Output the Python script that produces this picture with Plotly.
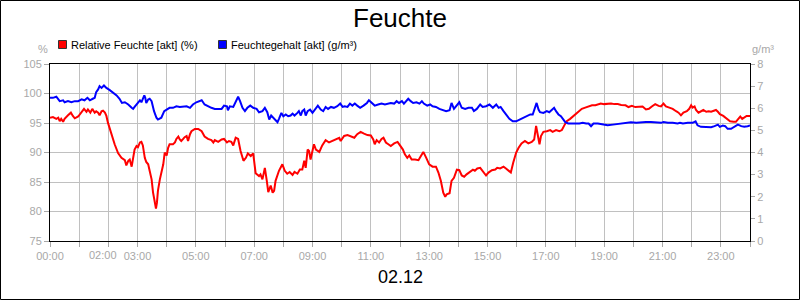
import pandas as pd
import plotly.graph_objects as go

# ---- data (minutes after midnight) ----
rf_min = [0, 6, 13, 17, 20, 23, 27, 30, 37, 43, 47, 51, 58, 65, 70, 75, 78, 83, 87, 92, 95, 99, 102, 106, 109, 113, 116, 119,
          126, 133, 140, 147, 154, 157, 161, 164, 168, 171, 174, 178, 181, 185, 188, 191, 195, 198, 202, 205, 209, 212, 216,
          218, 220, 222, 226, 229, 233, 236, 240, 243, 246, 253, 257, 260, 264, 267, 270, 274, 277, 281, 284, 288, 291, 298,
          305, 312, 318, 325, 332, 336, 339, 346, 353, 358, 364, 368, 373, 377, 382, 387, 392, 398, 403, 407, 413, 418, 423,
          430, 433, 437, 442, 446, 449, 454, 458, 461, 464, 471, 478, 483, 488, 493, 499, 503, 509, 514, 519, 523, 526, 530,
          533, 536, 540, 543, 547, 554, 560, 567, 574, 581, 588, 595, 598, 605, 612, 619, 626, 632, 639, 646, 653, 660, 665,
          668, 672, 677, 682, 686, 691, 696, 701, 708, 715, 720, 726, 730, 735, 739, 744, 751, 758, 763, 768, 774, 780, 787,
          794, 799, 804, 809, 813, 816, 822, 826, 831, 837, 842, 847, 852, 857, 864, 870, 874, 879, 885, 890, 897, 902, 909,
          916, 920, 926, 933, 938, 943, 948, 953, 959, 964, 970, 977, 984, 991, 996, 1000, 1003, 1007, 1010, 1015, 1022, 1029,
          1034, 1041, 1048, 1053, 1058, 1063, 1070, 1077, 1082, 1088, 1094, 1101, 1108, 1115, 1122, 1129, 1133, 1140, 1147,
          1154, 1161, 1168, 1175, 1184, 1190, 1197, 1204, 1212, 1219, 1226, 1232, 1238, 1245, 1252, 1257, 1262, 1267, 1274,
          1281, 1288, 1293, 1298, 1303, 1310, 1315, 1319, 1322, 1326, 1329, 1334, 1339, 1344, 1350, 1355, 1360, 1365, 1370,
          1374, 1378, 1385, 1392, 1399, 1406, 1411, 1416, 1420, 1424, 1428, 1433, 1440]
rf_val = [95.9, 96.0, 95.7, 95.9, 95.3, 95.7, 95.2, 95.7, 96.3, 96.75, 96.2, 95.8, 96.1, 96.75, 97.4, 96.9, 97.3, 96.75, 97.4,
          96.75, 97.0, 96.75, 96.3, 97.0, 97.1, 96.75, 96.2, 95.1, 93.1, 91.4, 89.9, 89.1, 88.7, 87.8, 88.6, 88.8, 87.6, 89.4,
          90.5, 91.1, 90.9, 91.7, 91.8, 91.2, 89.1, 88.4, 88.0, 86.9, 85.45, 83.2, 81.2, 80.5, 81.5, 83.5, 85.45, 86.6, 88.0,
          90.0, 89.5, 90.8, 91.4, 91.4, 91.7, 92.3, 92.7, 92.2, 91.95, 92.3, 92.6, 92.8, 91.95, 93.1, 93.6, 94.0, 94.0, 93.6,
          92.7, 92.3, 92.1, 91.7, 92.1, 91.8, 92.2, 92.3, 91.7, 91.95, 91.8, 91.2, 92.5, 92.3, 90.25, 88.6, 89.1, 89.85, 89.4,
          89.85, 86.5, 86.0, 86.3, 85.45, 87.4, 85.2, 83.3, 84.4, 83.2, 83.5, 85.2, 86.9, 88.0, 86.9, 86.4, 86.7, 86.2, 86.7,
          86.4, 87.1, 87.1, 88.6, 87.4, 90.5, 90.25, 88.8, 90.25, 91.4, 90.5, 90.1, 91.2, 92.1, 91.7, 91.95, 92.2, 92.5, 91.95,
          92.8, 92.95, 92.7, 92.5, 93.1, 93.5, 93.2, 92.95, 92.9, 92.2, 91.4, 92.1, 91.7, 92.3, 92.5, 91.7, 91.4, 91.1, 91.55,
          91.8, 91.2, 90.5, 89.7, 89.1, 89.5, 88.8, 88.8, 88.7, 89.4, 90.1, 89.1, 88.0, 87.6, 87.6, 86.6, 85.2, 83.2, 82.5,
          82.9, 83.1, 85.2, 85.7, 87.1, 87.0, 86.1, 85.9, 86.3, 86.7, 87.1, 86.9, 87.3, 87.4, 86.9, 86.1, 86.6, 87.0, 87.1,
          87.4, 87.3, 87.6, 87.3, 86.9, 86.6, 88.3, 90.0, 90.8, 91.55, 91.95, 91.55, 91.8, 92.2, 94.5, 93.1, 91.4, 92.8, 93.5,
          93.6, 93.8, 93.5, 93.8, 93.6, 93.8, 94.6, 95.3, 95.7, 96.2, 96.5, 96.9, 97.4, 97.6, 97.8, 98.0, 98.0, 98.2, 98.3,
          98.2, 98.3, 98.3, 98.2, 98.2, 98.05, 98.0, 97.7, 97.9, 97.7, 97.8, 97.8, 97.3, 97.4, 97.8, 98.2, 97.9, 97.8, 98.3,
          97.8, 97.6, 97.4, 97.0, 96.75, 96.3, 96.75, 97.0, 97.4, 98.0, 97.6, 97.8, 97.2, 96.75, 97.0, 97.2, 96.9, 97.0, 96.9,
          97.0, 97.2, 96.9, 96.5, 96.2, 95.7, 95.3, 95.2, 95.2, 95.7, 96.1, 95.7, 95.9, 96.2, 96.2]

fg_min = [0, 6, 13, 17, 20, 27, 30, 37, 44, 51, 58, 65, 71, 77, 82, 89, 92, 95, 99, 102, 106, 111, 116, 123, 130, 137, 143,
          148, 154, 161, 168, 171, 174, 180, 185, 188, 194, 196, 198, 202, 205, 209, 214, 219, 222, 229, 235, 240, 246, 253,
          260, 267, 274, 281, 288, 294, 301, 312, 318, 325, 332, 339, 346, 353, 358, 364, 366, 370, 377, 382, 387, 391, 396,
          401, 406, 412, 418, 425, 430, 437, 442, 447, 451, 455, 461, 464, 468, 471, 476, 480, 485, 490, 495, 499, 503, 509,
          512, 516, 519, 523, 526, 530, 535, 540, 547, 551, 557, 562, 567, 572, 578, 584, 591, 597, 602, 606, 612, 617, 622,
          627, 632, 638, 645, 652, 656, 661, 668, 675, 682, 689, 696, 701, 708, 713, 718, 724, 728, 732, 737, 742, 747, 754,
          760, 765, 769, 776, 782, 787, 794, 801, 808, 815, 822, 826, 831, 837, 842, 847, 854, 861, 868, 872, 878, 885, 890,
          897, 904, 911, 918, 923, 927, 933, 938, 945, 952, 959, 966, 974, 981, 988, 993, 998, 1001, 1005, 1008, 1015, 1022,
          1027, 1032, 1037, 1041, 1046, 1051, 1056, 1060, 1066, 1077, 1082, 1089, 1096, 1103, 1108, 1113, 1118, 1127, 1137,
          1147, 1158, 1168, 1178, 1184, 1195, 1206, 1216, 1226, 1236, 1247, 1257, 1262, 1271, 1281, 1291, 1296, 1302, 1312,
          1322, 1328, 1332, 1339, 1350, 1360, 1367, 1374, 1378, 1384, 1389, 1394, 1401, 1408, 1415, 1422, 1428, 1435, 1440]
fg_val = [6.47, 6.47, 6.52, 6.40, 6.32, 6.36, 6.27, 6.32, 6.27, 6.32, 6.32, 6.40, 6.36, 6.47, 6.36, 6.44, 6.47, 6.73, 6.85,
          7.0, 6.92, 7.03, 6.92, 6.82, 6.70, 6.58, 6.43, 6.24, 6.27, 6.17, 6.02, 5.97, 6.06, 6.24, 6.36, 6.27, 6.58, 6.47,
          6.24, 6.40, 6.43, 6.32, 5.87, 5.57, 5.49, 5.57, 5.87, 5.94, 6.02, 6.02, 6.09, 6.06, 6.09, 6.09, 6.02, 6.17, 6.27,
          6.36, 6.17, 6.09, 6.02, 5.97, 5.97, 5.97, 6.12, 6.09, 5.91, 6.09, 6.06, 6.27, 6.52, 6.32, 6.02, 5.87, 6.02, 6.12,
          6.02, 5.97, 5.82, 5.87, 6.02, 5.82, 5.49, 5.67, 5.52, 5.46, 5.37, 5.52, 5.79, 5.64, 5.72, 5.64, 5.67, 5.76, 5.67,
          5.79, 5.87, 5.67, 5.87, 5.94, 5.67, 5.87, 5.94, 5.79, 6.02, 6.12, 5.94, 5.87, 6.06, 5.97, 6.06, 6.02, 6.09, 6.21,
          6.06, 6.09, 6.06, 6.21, 6.12, 6.21, 6.12, 6.02, 6.12, 6.24, 6.36, 6.27, 6.12, 6.17, 6.21, 6.17, 6.21, 6.24, 6.21,
          6.32, 6.24, 6.32, 6.21, 6.32, 6.43, 6.32, 6.24, 6.27, 6.21, 6.32, 6.21, 6.12, 6.17, 6.09, 6.06, 5.97, 5.91, 5.87,
          5.91, 6.24, 5.97, 6.12, 6.27, 6.02, 5.97, 6.02, 6.02, 5.87, 5.97, 6.17, 6.06, 6.09, 6.17, 6.02, 6.17, 6.02, 6.06,
          5.87, 5.72, 5.52, 5.41, 5.41, 5.49, 5.57, 5.64, 5.72, 5.72, 6.09, 6.24, 5.94, 5.82, 5.79, 5.87, 5.82, 5.94, 6.02,
          5.87, 5.72, 5.64, 5.46, 5.37, 5.31, 5.29, 5.31, 5.31, 5.34, 5.31, 5.31, 5.19, 5.31, 5.31, 5.26, 5.23, 5.26, 5.29,
          5.34, 5.37, 5.37, 5.34, 5.37, 5.38, 5.38, 5.37, 5.34, 5.38, 5.34, 5.34, 5.31, 5.34, 5.31, 5.34, 5.34, 5.41, 5.23,
          5.16, 5.16, 5.14, 5.19, 5.26, 5.16, 5.22, 5.19, 5.07, 5.07, 5.16, 5.26, 5.19, 5.16, 5.19, 5.22]

hour_labels = {0: "00:00", 3: "03:00", 5: "05:00", 7: "07:00", 9: "09:00", 11: "11:00",
               13: "13:00", 15: "15:00", 17: "17:00", 19: "19:00", 21: "21:00", 23: "23:00"}
shifted_label = "02:00"   # drawn slightly left of its tick, as in the original
left_ticks = [75, 80, 85, 90, 95, 100, 105]
right_ticks = [0, 1, 2, 3, 4, 5, 6, 7, 8]
title_text = "Feuchte"
date_text = "02.12"
name_rf = "Relative Feuchte [akt] (%)"
name_fg = "Feuchtegehalt [akt] (g/m³)"

# ---- build ----
base = pd.Timestamp("2023-12-02 00:00")
rf_x = base + pd.to_timedelta(rf_min, unit="m")
fg_x = base + pd.to_timedelta(fg_min, unit="m")
hour_vals = [base + pd.Timedelta(hours=h) for h in range(25)]
hour_text = [hour_labels.get(h, "") for h in range(25)]

FONT = "Liberation Sans, Arial, sans-serif"
GRAY = "#a8a8a8"

# plot-area pixel geometry (800x300 page)
L, R, T, B = 50, 750, 64, 241
W, H = R - L, B - T
def px(x):
    return (x - L) / W
def py(y):
    return (B - y) / H

fig = go.Figure()
fig.add_trace(go.Scatter(x=rf_x, y=rf_val, mode="lines", name=name_rf,
                         line=dict(color="#ff0000", width=2), yaxis="y", showlegend=False))
fig.add_trace(go.Scatter(x=fg_x, y=fg_val, mode="lines", name=name_fg,
                         line=dict(color="#0000ff", width=2), yaxis="y2", showlegend=False))

shapes = [
    dict(type="rect", xref="paper", yref="paper", x0=px(0.5), x1=px(799.5), y0=py(299.5), y1=py(0.5),
         line=dict(color="black", width=1), fillcolor="rgba(0,0,0,0)", layer="above"),
    dict(type="rect", xref="paper", yref="paper", x0=px(58.5), x1=px(66.5), y0=py(48.5), y1=py(40.5),
         line=dict(color="#333333", width=1), fillcolor="#ff0000"),
    dict(type="rect", xref="paper", yref="paper", x0=px(218.5), x1=px(226.5), y0=py(48.5), y1=py(40.5),
         line=dict(color="#333333", width=1), fillcolor="#0000ff"),
]
annotations = [
    dict(text=name_rf, xref="paper", yref="paper", x=px(69), y=py(44.5), xanchor="left", yanchor="middle",
         showarrow=False, font=dict(family=FONT, size=11, color="black")),
    dict(text=name_fg, xref="paper", yref="paper", x=px(229), y=py(44.5), xanchor="left", yanchor="middle",
         showarrow=False, font=dict(family=FONT, size=11, color="black")),
    dict(text="%", xref="paper", yref="paper", x=px(43), y=py(49), xanchor="center", yanchor="middle",
         showarrow=False, font=dict(family=FONT, size=11, color=GRAY)),
    dict(text="g/m³", xref="paper", yref="paper", x=px(763), y=py(49), xanchor="center", yanchor="middle",
         showarrow=False, font=dict(family=FONT, size=11, color=GRAY)),
    dict(text=date_text, xref="paper", yref="paper", x=0.5, y=py(276.5), xanchor="center", yanchor="middle",
         showarrow=False, font=dict(family=FONT, size=18, color="black")),
    dict(text=shifted_label, xref="paper", yref="paper", x=px(103), y=py(254.5), xanchor="center",
         yanchor="middle", showarrow=False, font=dict(family=FONT, size=11, color=GRAY)),
]

fig.update_layout(
    width=800, height=300,
    margin=dict(l=L, r=800 - R, t=T, b=300 - B, pad=0),
    paper_bgcolor="white", plot_bgcolor="white",
    title=dict(text=title_text, x=0.5, xanchor="center", y=1 - 18 / 300, yanchor="middle",
               font=dict(family=FONT, size=26, color="black")),
    showlegend=False,
    shapes=shapes,
    annotations=annotations,
    xaxis=dict(type="date", range=[hour_vals[0], hour_vals[-1]], tickmode="array",
               tickvals=hour_vals, ticktext=hour_text, tickangle=0,
               showgrid=True, gridcolor="#c0c0c0", gridwidth=1,
               showline=True, linecolor="black", linewidth=1, mirror=True,
               ticks="outside", ticklen=5, tickcolor=GRAY, zeroline=False,
               tickfont=dict(family=FONT, size=11, color=GRAY)),
    yaxis=dict(range=[75, 105], tickmode="array", tickvals=left_ticks,
               showgrid=True, gridcolor="#c0c0c0", gridwidth=1,
               showline=True, linecolor="black", linewidth=1,
               ticks="outside", ticklen=5, tickcolor=GRAY, zeroline=False,
               tickfont=dict(family=FONT, size=11, color=GRAY)),
    yaxis2=dict(range=[0, 8], tickmode="array", tickvals=right_ticks, overlaying="y", side="right",
                showgrid=False, showline=True, linecolor="black", linewidth=1,
                ticks="outside", ticklen=4, tickcolor=GRAY, zeroline=False,
                tickfont=dict(family=FONT, size=11, color=GRAY)),
)

fig.write_html("out.html")
